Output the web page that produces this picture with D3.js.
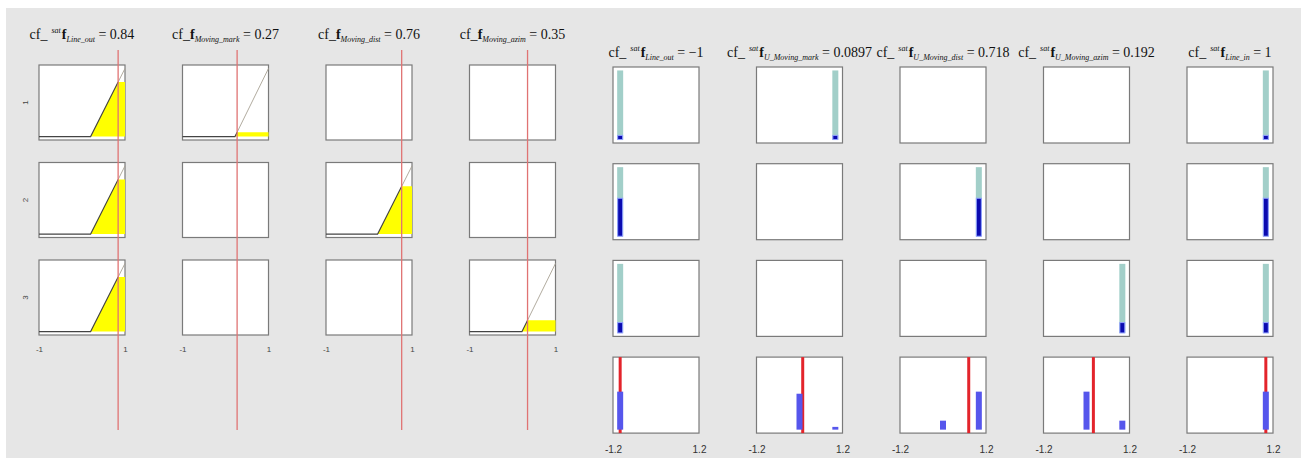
<!DOCTYPE html>
<html>
<head>
<meta charset="utf-8">
<script src="https://cdn.jsdelivr.net/npm/d3@7"></script>
<style>
  body { margin: 0; background: #ffffff; }
</style>
</head>
<body>
<div id="chart"></div>
<script>
// Rule viewer: 3 rules, 4 inputs (left) and 5 outputs (right)

var inputNames  = ["Line_out", "Moving_mark", "Moving_dist", "Moving_azim"];
var inputSat    = [true, false, false, false];
var inputValues = [0.84, 0.27, 0.76, 0.35];
var inputLabels = ["0.84", "0.27", "0.76", "0.35"];

// ramp membership functions [start, end] per rule (row) and input (column), null = not used
var inputMF = [
  [[0.2, 1], [0.22, 1], null, null],
  [[0.2, 1], null, [0.2, 1], null],
  [[0.2, 1], null, null, [0.22, 1]]
];

var outputNames  = ["Line_out", "U_Moving_mark", "U_Moving_dist", "U_Moving_azim", "Line_in"];
var outputValues = [-1, 0.0897, 0.718, 0.192, 1];
var outputLabels = ["\u22121", "0.0897", "0.718", "0.192", "1"];

// singleton output position per rule and output, null = not used
var outputMF = [
  [-1, 1, null, null, 1],
  [-1, null, 1, null, 1],
  [-1, null, null, 1, 1]
];
var ruleFiring = [0.06, 0.55, 0.15];

// aggregated output bars per output column
var aggX = [[-1], [0, 1], [0, 1], [0, 1], [1]];
var aggH = [[0.55], [0.52, 0.04], [0.13, 0.55], [0.55, 0.13], [0.55]];

var inTicks  = [-1, 1];
var outTicks = [-1.2, 1.2];
var ruleLabels = ["1", "2", "3"];

var svg = d3.select("#chart").append("svg").attr("width", 1307).attr("height", 471);
svg.append("rect").attr("x", 6).attr("y", 8).attr("width", 1295).attr("height", 450).attr("fill", "#e6e6e6");

var W = 86, H = 75, HO = 76;
var xIn  = d3.scaleLinear().domain([-1, 1]).range([0, W]);
var yIn  = d3.scaleLinear().domain([-0.05, 1.05]).range([H, 0]);
var xOut = d3.scaleLinear().domain([-1.2, 1.2]).range([0, W]);
var yOut = d3.scaleLinear().domain([-0.05, 1.05]).range([HO, 0]);

var colIn  = d3.scaleLinear().domain([0, 1]).range([39, 182.5]);   // left edge of input column i
var rowIn  = d3.scaleLinear().domain([0, 1]).range([65, 162.5]);   // top edge of rule row j
var colOut = d3.scaleLinear().domain([0, 1]).range([613, 756.5]);
var rowOut = d3.scaleLinear().domain([0, 1]).range([67, 163.7]);

var serif = "'Liberation Serif', 'Times New Roman', serif";
var sans  = "'Liberation Sans', Arial, sans-serif";

function AddTitle(cx, y, sat, name, val){
  var t = svg.append("text").attr("x", cx).attr("y", y).attr("text-anchor", "middle")
    .style("font-family", serif).style("font-size", "14px").style("fill", "#111");
  t.append("tspan").text("cf_");
  if(sat){
    t.append("tspan").attr("dx", 4).attr("dy", -6).style("font-size", "8px").style("font-style", "italic").text("sat");
    t.append("tspan").attr("dx", 1).attr("dy", 6).style("font-weight", "bold").text("f");
  }
  else{
    t.append("tspan").style("font-weight", "bold").text("f");
  }
  t.append("tspan").attr("dy", 3).style("font-size", "8px").style("font-style", "italic").text(name);
  t.append("tspan").attr("dy", -3).text("\u00a0= " + val);
} // Ends Function AddTitle

function DrawInputCell(g, mf, v){
  g.append("rect").attr("width", W).attr("height", H).attr("fill", "white").attr("stroke", "#7a7a7a").attr("stroke-width", 1.2);
  if(!mf){ return; }
  var a = mf[0], b = mf[1];
  var mu = Math.max(0, Math.min(1, (v - a) / (b - a)));
  var line = d3.line().x(function(d){ return xIn(d[0]); }).y(function(d){ return yIn(d[1]); });
  g.append("path").attr("d", line([[a, 0], [a + mu * (b - a), mu], [1, mu], [1, 0]]) + "Z")
    .attr("fill", "#ffff00").attr("stroke", "none");
  g.append("path").attr("d", line([[a + mu * (b - a), mu], [b, 1], [1, 1]]))
    .attr("fill", "none").attr("stroke", "#a8a294").attr("stroke-width", 0.9);
  g.append("path").attr("d", line([[-1, 0], [a, 0], [a + mu * (b - a), mu]]))
    .attr("fill", "none").attr("stroke", "#444").attr("stroke-width", 1.1);
} // Ends Function DrawInputCell

function DrawOutputCell(g, x, f){
  g.append("rect").attr("width", W).attr("height", HO).attr("fill", "white").attr("stroke", "#7a7a7a").attr("stroke-width", 1.2);
  if(x === null){ return; }
  g.append("rect").attr("x", xOut(x) - 3).attr("y", yOut(1)).attr("width", 6).attr("height", yOut(0) - yOut(1))
    .attr("fill", "#a2cfc9");
  g.append("rect").attr("x", xOut(x) - 2.5).attr("y", yOut(f)).attr("width", 5).attr("height", yOut(0) - yOut(f))
    .attr("fill", "#0b0bb0").attr("stroke", "#93a3ff").attr("stroke-width", 1);
} // Ends Function DrawOutputCell

// ---- left panel: inputs ----
inputNames.forEach(function(name, i){
  AddTitle(colIn(i) + W / 2, 39, inputSat[i], name, inputLabels[i]);
  ruleLabels.forEach(function(r, j){
    var g = svg.append("g").attr("transform", "translate(" + colIn(i) + "," + rowIn(j) + ")");
    DrawInputCell(g, inputMF[j][i], inputValues[i]);
  });
  var ax = svg.append("g").attr("transform", "translate(" + colIn(i) + "," + (rowIn(2) + H + 8) + ")")
    .call(d3.axisBottom(xIn).tickValues(inTicks).tickSize(0).tickFormat(function(d){ return String(d); }));
  ax.select(".domain").remove();
  ax.selectAll("text").style("font-family", sans).style("font-size", "8px").style("fill", "#444");
  svg.append("line").attr("x1", colIn(i) + xIn(inputValues[i])).attr("x2", colIn(i) + xIn(inputValues[i]))
    .attr("y1", 50).attr("y2", 430).attr("stroke", "#e07373").attr("stroke-width", 1.3);
});

ruleLabels.forEach(function(r, j){
  svg.append("text").attr("transform", "translate(28," + (rowIn(j) + H / 2) + ")rotate(-90)")
    .attr("text-anchor", "middle").style("font-family", sans).style("font-size", "8px").style("fill", "#444").text(r);
});

// ---- right panel: outputs ----
outputNames.forEach(function(name, i){
  AddTitle(colOut(i) + W / 2, 57, true, name, outputLabels[i]);
  ruleLabels.forEach(function(r, j){
    var g = svg.append("g").attr("transform", "translate(" + colOut(i) + "," + rowOut(j) + ")");
    DrawOutputCell(g, outputMF[j][i], ruleFiring[j]);
  });
  // aggregated row
  var g4 = svg.append("g").attr("transform", "translate(" + colOut(i) + "," + rowOut(3) + ")");
  g4.append("rect").attr("width", W).attr("height", HO).attr("fill", "white").attr("stroke", "#7a7a7a").attr("stroke-width", 1.2);
  g4.append("line").attr("x1", xOut(outputValues[i])).attr("x2", xOut(outputValues[i]))
    .attr("y1", 0).attr("y2", HO).attr("stroke", "#e3242b").attr("stroke-width", 3);
  aggX[i].forEach(function(x, k){
    g4.append("rect").attr("x", xOut(x) - 3).attr("y", yOut(aggH[i][k])).attr("width", 6)
      .attr("height", yOut(0) - yOut(aggH[i][k])).attr("fill", "#5656ec");
  });
  var ax = g4.append("g").attr("transform", "translate(0," + (HO + 10) + ")")
    .call(d3.axisBottom(xOut).tickValues(outTicks).tickSize(0).tickFormat(function(d){ return String(d); }));
  ax.select(".domain").remove();
  ax.selectAll("text").style("font-family", sans).style("font-size", "10px").style("fill", "#333");
});
</script>
</body>
</html>
